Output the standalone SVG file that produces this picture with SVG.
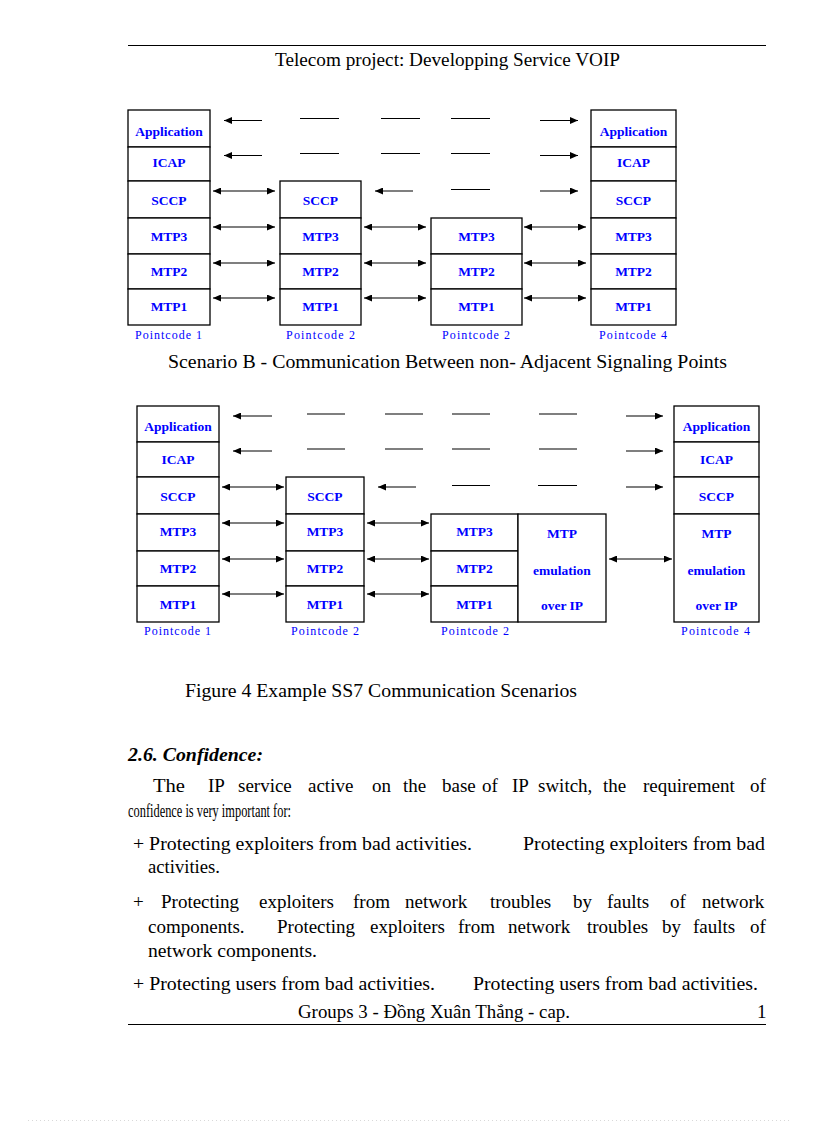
<svg xmlns="http://www.w3.org/2000/svg" width="816" height="1123" viewBox="0 0 816 1123">
<defs>
<style>
.box{fill:#fff;stroke:#000;stroke-width:1.3}
.lbl{font-family:"Liberation Serif","Times New Roman",serif;font-weight:bold;font-size:13.5px;fill:#0000ff;text-anchor:middle}
.pc{font-family:"Liberation Serif","Times New Roman",serif;font-size:12px;fill:#0000ff}
.ln{stroke:#000;stroke-width:1.2;fill:none}
.ar{stroke:#000;stroke-width:1.2;fill:none;marker-end:url(#ah)}
.da{stroke:#000;stroke-width:1.2;fill:none;marker-start:url(#ah);marker-end:url(#ah)}
.txt{font-family:"Liberation Serif","Times New Roman",serif;font-size:19px;fill:#000}
.cap{font-family:"Liberation Serif","Times New Roman",serif;font-size:18px;fill:#000}
</style>
<marker id="ah" viewBox="0 0 8 7" refX="8" refY="3.5" markerWidth="8" markerHeight="7" markerUnits="userSpaceOnUse" orient="auto-start-reverse">
<path d="M0,0 L8,3.5 L0,7 z" fill="#000"/>
</marker>
</defs>
<rect width="816" height="1123" fill="#fff"/>

<!-- header -->
<line x1="128" y1="45.5" x2="766" y2="45.5" stroke="#000" stroke-width="1"/>
<text class="cap" x="275" y="66" font-size="18.5" textLength="345" lengthAdjust="spacingAndGlyphs">Telecom project: Developping  Service VOIP</text>

<!-- ===== Scenario B diagram ===== -->
<g id="s1">
<rect class="box" x="128" y="110" width="82" height="37"/>
<rect class="box" x="128" y="147" width="82" height="34"/>
<rect class="box" x="128" y="181" width="82" height="37"/>
<rect class="box" x="128" y="218" width="82" height="36"/>
<rect class="box" x="128" y="254" width="82" height="35"/>
<rect class="box" x="128" y="289" width="82" height="36"/>
<text class="lbl" x="169" y="135.5">Application</text>
<text class="lbl" x="169" y="167">ICAP</text>
<text class="lbl" x="169" y="204.5">SCCP</text>
<text class="lbl" x="169" y="241">MTP3</text>
<text class="lbl" x="169" y="276">MTP2</text>
<text class="lbl" x="169" y="311">MTP1</text>
<text class="pc" x="135" y="338.5" textLength="67" lengthAdjust="spacing">Pointcode 1</text>
</g>
<g id="s2">
<rect class="box" x="280" y="181" width="81" height="37"/>
<rect class="box" x="280" y="218" width="81" height="36"/>
<rect class="box" x="280" y="254" width="81" height="35"/>
<rect class="box" x="280" y="289" width="81" height="36"/>
<text class="lbl" x="320.5" y="204.5">SCCP</text>
<text class="lbl" x="320.5" y="241">MTP3</text>
<text class="lbl" x="320.5" y="276">MTP2</text>
<text class="lbl" x="320.5" y="311">MTP1</text>
<text class="pc" x="286" y="338.5" textLength="69" lengthAdjust="spacing">Pointcode 2</text>
</g>
<g id="s3">
<rect class="box" x="431" y="218" width="91" height="36"/>
<rect class="box" x="431" y="254" width="91" height="35"/>
<rect class="box" x="431" y="289" width="91" height="36"/>
<text class="lbl" x="476.5" y="241">MTP3</text>
<text class="lbl" x="476.5" y="276">MTP2</text>
<text class="lbl" x="476.5" y="311">MTP1</text>
<text class="pc" x="442" y="338.5" textLength="68" lengthAdjust="spacing">Pointcode 2</text>
</g>
<g id="s4">
<rect class="box" x="591" y="110" width="85" height="37"/>
<rect class="box" x="591" y="147" width="85" height="34"/>
<rect class="box" x="591" y="181" width="85" height="37"/>
<rect class="box" x="591" y="218" width="85" height="36"/>
<rect class="box" x="591" y="254" width="85" height="35"/>
<rect class="box" x="591" y="289" width="85" height="36"/>
<text class="lbl" x="633.5" y="135.5">Application</text>
<text class="lbl" x="633.5" y="167">ICAP</text>
<text class="lbl" x="633.5" y="204.5">SCCP</text>
<text class="lbl" x="633.5" y="241">MTP3</text>
<text class="lbl" x="633.5" y="276">MTP2</text>
<text class="lbl" x="633.5" y="311">MTP1</text>
<text class="pc" x="599" y="338.5" textLength="68" lengthAdjust="spacing">Pointcode 4</text>
</g>

<g id="connectors-b">
<line class="ar" x1="262" y1="120.5" x2="224" y2="120.5"/>
<line class="ln" x1="300" y1="118.5" x2="339" y2="118.5"/>
<line class="ln" x1="381" y1="118.5" x2="420" y2="118.5"/>
<line class="ln" x1="451" y1="118.5" x2="490" y2="118.5"/>
<line class="ar" x1="540" y1="120.5" x2="578" y2="120.5"/>
<line class="ar" x1="262" y1="155.5" x2="224" y2="155.5"/>
<line class="ln" x1="300" y1="153.5" x2="339" y2="153.5"/>
<line class="ln" x1="381" y1="153.5" x2="420" y2="153.5"/>
<line class="ln" x1="451" y1="153.5" x2="490" y2="153.5"/>
<line class="ar" x1="540" y1="155.5" x2="578" y2="155.5"/>
<line class="da" x1="213" y1="191" x2="275" y2="191"/>
<line class="ar" x1="413" y1="191" x2="375" y2="191"/>
<line class="ln" x1="451" y1="189.5" x2="490" y2="189.5"/>
<line class="ar" x1="540" y1="191" x2="578" y2="191"/>
<line class="da" x1="213" y1="227" x2="275" y2="227"/>
<line class="da" x1="364" y1="227" x2="426" y2="227"/>
<line class="da" x1="524" y1="227" x2="586" y2="227"/>
<line class="da" x1="213" y1="263" x2="275" y2="263"/>
<line class="da" x1="364" y1="263" x2="426" y2="263"/>
<line class="da" x1="524" y1="263" x2="586" y2="263"/>
<line class="da" x1="213" y1="298" x2="275" y2="298"/>
<line class="da" x1="364" y1="298" x2="426" y2="298"/>
<line class="da" x1="524" y1="298" x2="586" y2="298"/>
</g>

<text class="cap" x="168" y="367.5" textLength="559" lengthAdjust="spacingAndGlyphs">Scenario B - Communication Between non- Adjacent Signaling Points</text>

<!-- ===== Second diagram ===== -->
<g id="t1">
<rect class="box" x="137" y="406" width="82" height="36"/>
<rect class="box" x="137" y="442" width="82" height="35"/>
<rect class="box" x="137" y="477" width="82" height="37"/>
<rect class="box" x="137" y="514" width="82" height="37"/>
<rect class="box" x="137" y="551" width="82" height="35"/>
<rect class="box" x="137" y="586" width="82" height="36"/>
<text class="lbl" x="178" y="430.5">Application</text>
<text class="lbl" x="178" y="463.5">ICAP</text>
<text class="lbl" x="178" y="500.5">SCCP</text>
<text class="lbl" x="178" y="536">MTP3</text>
<text class="lbl" x="178" y="573">MTP2</text>
<text class="lbl" x="178" y="608.5">MTP1</text>
<text class="pc" x="144" y="635" textLength="67" lengthAdjust="spacing">Pointcode 1</text>
</g>
<g id="t2">
<rect class="box" x="286" y="477" width="78" height="37"/>
<rect class="box" x="286" y="514" width="78" height="37"/>
<rect class="box" x="286" y="551" width="78" height="35"/>
<rect class="box" x="286" y="586" width="78" height="36"/>
<text class="lbl" x="325" y="500.5">SCCP</text>
<text class="lbl" x="325" y="536">MTP3</text>
<text class="lbl" x="325" y="573">MTP2</text>
<text class="lbl" x="325" y="608.5">MTP1</text>
<text class="pc" x="291" y="635" textLength="68" lengthAdjust="spacing">Pointcode 2</text>
</g>
<g id="t3">
<rect class="box" x="431" y="514" width="87" height="37"/>
<rect class="box" x="431" y="551" width="87" height="35"/>
<rect class="box" x="431" y="586" width="87" height="36"/>
<rect class="box" x="518" y="514" width="88" height="108"/>
<text class="lbl" x="474.5" y="536">MTP3</text>
<text class="lbl" x="474.5" y="573">MTP2</text>
<text class="lbl" x="474.5" y="608.5">MTP1</text>
<text class="lbl" x="562" y="538">MTP</text>
<text class="lbl" x="562" y="575">emulation</text>
<text class="lbl" x="562" y="610">over IP</text>
<text class="pc" x="441" y="635" textLength="68" lengthAdjust="spacing">Pointcode 2</text>
</g>
<g id="t4">
<rect class="box" x="674" y="406" width="85" height="36"/>
<rect class="box" x="674" y="442" width="85" height="35"/>
<rect class="box" x="674" y="477" width="85" height="37"/>
<rect class="box" x="674" y="514" width="85" height="108"/>
<text class="lbl" x="716.5" y="430.5">Application</text>
<text class="lbl" x="716.5" y="463.5">ICAP</text>
<text class="lbl" x="716.5" y="500.5">SCCP</text>
<text class="lbl" x="716.5" y="538">MTP</text>
<text class="lbl" x="716.5" y="575">emulation</text>
<text class="lbl" x="716.5" y="610">over IP</text>
<text class="pc" x="681" y="635" textLength="69" lengthAdjust="spacing">Pointcode 4</text>
</g>

<g id="connectors-c">
<line class="ar" x1="272" y1="416" x2="233" y2="416"/>
<line class="ln" x1="307" y1="414" x2="345" y2="414"/>
<line class="ln" x1="385" y1="414" x2="423" y2="414"/>
<line class="ln" x1="452" y1="414" x2="490" y2="414"/>
<line class="ln" x1="539" y1="414" x2="577" y2="414"/>
<line class="ar" x1="626" y1="416" x2="663" y2="416"/>
<line class="ar" x1="272" y1="451" x2="233" y2="451"/>
<line class="ln" x1="307" y1="449" x2="345" y2="449"/>
<line class="ln" x1="385" y1="449" x2="423" y2="449"/>
<line class="ln" x1="452" y1="449" x2="490" y2="449"/>
<line class="ln" x1="539" y1="449" x2="577" y2="449"/>
<line class="ar" x1="626" y1="451" x2="663" y2="451"/>
<line class="da" x1="222" y1="487" x2="284" y2="487"/>
<line class="ar" x1="416" y1="487" x2="378" y2="487"/>
<line class="ln" x1="452" y1="485.5" x2="490" y2="485.5"/>
<line class="ln" x1="538" y1="485.5" x2="577" y2="485.5"/>
<line class="ar" x1="626" y1="487" x2="663" y2="487"/>
<line class="da" x1="222" y1="523" x2="284" y2="523"/>
<line class="da" x1="367" y1="523" x2="429" y2="523"/>
<line class="da" x1="222" y1="559" x2="284" y2="559"/>
<line class="da" x1="367" y1="559" x2="429" y2="559"/>
<line class="da" x1="609" y1="559" x2="672" y2="559"/>
<line class="da" x1="222" y1="594" x2="284" y2="594"/>
<line class="da" x1="367" y1="594" x2="429" y2="594"/>
</g>

<text class="cap" x="185" y="697" textLength="392" lengthAdjust="spacingAndGlyphs">Figure 4 Example SS7 Communication Scenarios</text>

<!-- ===== Body text ===== -->
<text x="128" y="761" font-family="'Liberation Serif','Times New Roman',serif" font-size="19" font-weight="bold" font-style="italic" textLength="135" lengthAdjust="spacingAndGlyphs">2.6. Confidence:</text>

<text class="txt" x="153" y="792" font-size="22" textLength="32" lengthAdjust="spacingAndGlyphs">The</text>
<text class="txt" y="792"><tspan x="208">IP</tspan><tspan x="238">service</tspan><tspan x="308">active</tspan><tspan x="372">on</tspan><tspan x="403">the</tspan><tspan x="442">base</tspan><tspan x="482">of</tspan><tspan x="512">IP</tspan><tspan x="538">switch,</tspan><tspan x="603">the</tspan><tspan x="643">requirement</tspan><tspan x="750">of</tspan></text>
<text class="txt" x="128" y="817" font-size="17.5" textLength="163" lengthAdjust="spacingAndGlyphs">confidence is very important for:</text>

<text class="txt" x="133" y="850" textLength="339" lengthAdjust="spacingAndGlyphs">+ Protecting exploiters from bad activities.</text>
<text class="txt" x="523" y="850" textLength="242" lengthAdjust="spacingAndGlyphs">Protecting exploiters from bad</text>
<text class="txt" x="148" y="873" textLength="72" lengthAdjust="spacingAndGlyphs">activities.</text>

<text class="txt" y="908"><tspan x="133">+</tspan><tspan x="161">Protecting</tspan><tspan x="259">exploiters</tspan><tspan x="353">from</tspan><tspan x="405">network</tspan><tspan x="490">troubles</tspan><tspan x="573">by</tspan><tspan x="607">faults</tspan><tspan x="670">of</tspan><tspan x="702">network</tspan></text>
<text class="txt" y="933"><tspan x="148">components.</tspan><tspan x="277">Protecting</tspan><tspan x="370">exploiters</tspan><tspan x="458">from</tspan><tspan x="508">network</tspan><tspan x="587">troubles</tspan><tspan x="662">by</tspan><tspan x="693">faults</tspan><tspan x="750">of</tspan></text>
<text class="txt" x="148" y="957" textLength="169" lengthAdjust="spacingAndGlyphs">network components.</text>

<text class="txt" x="133" y="990" textLength="302" lengthAdjust="spacingAndGlyphs">+ Protecting users from bad activities.</text>
<text class="txt" x="473" y="990" textLength="285" lengthAdjust="spacingAndGlyphs">Protecting users from bad activities.</text>

<!-- footer -->
<text class="txt" x="298" y="1018" textLength="272" lengthAdjust="spacingAndGlyphs">Groups 3 - Đồng Xuân Thắng - cap.</text>
<text class="txt" x="757" y="1018">1</text>
<line x1="128" y1="1024.5" x2="766" y2="1024.5" stroke="#000" stroke-width="1"/>
<line x1="28" y1="1120.5" x2="790" y2="1120.5" stroke="#d8d8d8" stroke-width="1" stroke-dasharray="1,3"/>
</svg>
